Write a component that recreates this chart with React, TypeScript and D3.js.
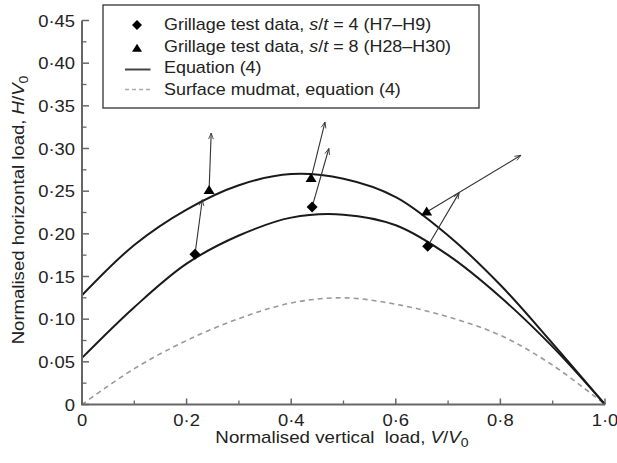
import React from "react";
import * as d3 from "d3";

const vGrid = [0, 0.1, 0.2, 0.3, 0.4, 0.5, 0.6, 0.7, 0.8, 0.9, 1.0];
const upperCurve = [0.128, 0.187, 0.2285, 0.257, 0.270, 0.2645, 0.243, 0.198, 0.140, 0.0714, 0];
const lowerCurve = [0.0546, 0.114, 0.165, 0.198, 0.219, 0.2225, 0.210, 0.175, 0.126, 0.0675, 0];
const mudmatCurve = [0, 0.042, 0.075, 0.1007, 0.119, 0.125, 0.1175, 0.1027, 0.081, 0.046, 0];

// Grillage test data s/t = 4 (diamonds) and s/t = 8 (triangles), with arrow tips
const diamondV = [0.216, 0.44, 0.661];
const diamondH = [0.176, 0.2315, 0.1855];
const diamondTipV = [0.230, 0.472, 0.721];
const diamondTipH = [0.240, 0.300, 0.248];
const triangleV = [0.243, 0.438, 0.659];
const triangleH = [0.251, 0.265, 0.2256];
const triangleTipV = [0.247, 0.4646, 0.839];
const triangleTipH = [0.318, 0.331, 0.292];

const xMajor = [0, 0.2, 0.4, 0.6, 0.8, 1.0];
const xMajorLabels = ["0", "0·2", "0·4", "0·6", "0·8", "1·0"];
const xMinor = [0.1, 0.3, 0.5, 0.7, 0.9];
const yMajor = [0, 0.05, 0.1, 0.15, 0.2, 0.25, 0.3, 0.35, 0.4, 0.45];
const yMajorLabels = ["0", "0·05", "0·10", "0·15", "0·20", "0·25", "0·30", "0·35", "0·40", "0·45"];
const yMinor = [0.025, 0.075, 0.125, 0.175, 0.225, 0.275, 0.325, 0.375, 0.425];

const FONT = "'Liberation Sans', Arial, Helvetica, sans-serif";
const SX = 1.15;

function T(props: {
  x: number;
  y: number;
  anchor?: "start" | "middle" | "end";
  rotate?: number;
  sx?: number;
  children: React.ReactNode;
}) {
  const { x, y, anchor = "start", rotate = 0, sx = SX, children } = props;
  return (
    <g transform={`translate(${x},${y}) rotate(${rotate}) scale(${sx},1)`}>
      <text x={0} y={0} textAnchor={anchor} fontSize={16} fill="#222" style={{ whiteSpace: "pre" }}>
        {children}
      </text>
    </g>
  );
}

export default function App() {
  const x = d3.scaleLinear().domain([0, 1]).range([82, 605]);
  const y = d3.scaleLinear().domain([0, 0.45]).range([404.5, 20.5]);

  const line = d3
    .line<number>()
    .x((_, i) => x(vGrid[i]))
    .y((d) => y(d))
    .curve(d3.curveCatmullRom.alpha(0.5));

  const axisColor = "#666";

  const diamond = (cx: number, cy: number, r = 5.5) =>
    `M${cx},${cy - r}L${cx + r},${cy}L${cx},${cy + r}L${cx - r},${cy}Z`;
  const triangle = (cx: number, cy: number, w = 11, h = 9) =>
    `M${cx},${cy - h * 0.6}L${cx + w / 2},${cy + h * 0.4}L${cx - w / 2},${cy + h * 0.4}Z`;

  const arrows = [
    ...diamondV.map((v, i) => ({ x1: x(v), y1: y(diamondH[i]), x2: x(diamondTipV[i]), y2: y(diamondTipH[i]) })),
    ...triangleV.map((v, i) => ({ x1: x(v), y1: y(triangleH[i]), x2: x(triangleTipV[i]), y2: y(triangleTipH[i]) })),
  ];

  return (
    <svg
      width={617}
      height={463}
      style={{ position: "absolute", left: 0, top: 0, background: "#fff" }}
      fontFamily={FONT}
    >
      <defs>
        <marker
          id="arrowhead"
          viewBox="-10 -5 12 10"
          refX={0}
          refY={0}
          markerWidth={9}
          markerHeight={8}
          markerUnits="userSpaceOnUse"
          orient="auto"
        >
          <path d="M-8,-3.2L0,0L-8,3.2" fill="none" stroke="#333" strokeWidth={1.1} />
        </marker>
      </defs>

      {/* curves */}
      <path d={line(mudmatCurve) || ""} fill="none" stroke="#999" strokeWidth={1.6} strokeDasharray="5,4" />
      <path d={line(upperCurve) || ""} fill="none" stroke="#1a1a1a" strokeWidth={2} />
      <path d={line(lowerCurve) || ""} fill="none" stroke="#1a1a1a" strokeWidth={2} />

      {/* arrows */}
      {arrows.map((a, i) => (
        <line
          key={"a" + i}
          x1={a.x1}
          y1={a.y1}
          x2={a.x2}
          y2={a.y2}
          stroke="#333"
          strokeWidth={1.1}
          markerEnd="url(#arrowhead)"
        />
      ))}

      {/* markers */}
      {diamondV.map((v, i) => (
        <path key={"d" + i} d={diamond(x(v), y(diamondH[i]))} fill="#000" />
      ))}
      {triangleV.map((v, i) => (
        <path key={"t" + i} d={triangle(x(v), y(triangleH[i]))} fill="#000" />
      ))}

      {/* axes */}
      <line x1={x(0)} y1={y(0)} x2={x(0)} y2={y(0.45)} stroke={axisColor} strokeWidth={2} />
      <line x1={x(0) - 1} y1={y(0)} x2={x(1)} y2={y(0)} stroke={axisColor} strokeWidth={2} />
      {yMajor.map((t) => (
        <line key={"ym" + t} x1={x(0)} x2={x(0) + 7} y1={y(t)} y2={y(t)} stroke={axisColor} strokeWidth={1.5} />
      ))}
      {yMinor.map((t) => (
        <line key={"yn" + t} x1={x(0)} x2={x(0) + 4.5} y1={y(t)} y2={y(t)} stroke={axisColor} strokeWidth={1.3} />
      ))}
      {xMajor.map((t) => (
        <line key={"xm" + t} x1={x(t)} x2={x(t)} y1={y(0)} y2={y(0) - 6} stroke={axisColor} strokeWidth={1.5} />
      ))}
      {xMinor.map((t) => (
        <line key={"xn" + t} x1={x(t)} x2={x(t)} y1={y(0)} y2={y(0) - 4} stroke={axisColor} strokeWidth={1.3} />
      ))}

      {/* tick labels */}
      {yMajor.map((t, i) => (
        <T key={"yl" + t} x={75} y={y(t) + 6} anchor="end">
          {yMajorLabels[i]}
        </T>
      ))}
      {xMajor.map((t, i) => (
        <T key={"xl" + t} x={x(t)} y={426} anchor="middle">
          {xMajorLabels[i]}
        </T>
      ))}

      {/* axis titles */}
      <T x={342} y={443} anchor="middle" sx={1.17}>
        {"Normalised vertical  load, "}
        <tspan fontStyle="italic">V</tspan>
        {"/"}
        <tspan fontStyle="italic">V</tspan>
        <tspan fontSize={12} dy={4}>0</tspan>
      </T>
      <T x={24} y={210} anchor="middle" rotate={-90} sx={1.16}>
        {"Normalised horizontal load, "}
        <tspan fontStyle="italic">H</tspan>
        {"/"}
        <tspan fontStyle="italic">V</tspan>
        <tspan fontSize={12} dy={4}>0</tspan>
      </T>

      {/* legend */}
      <rect x={103} y={5} width={376} height={103} fill="#fff" stroke="#333" strokeWidth={1.3} />
      <path d={diamond(137, 25, 5)} fill="#000" />
      <path d={triangle(137, 48.5, 10, 8)} fill="#000" />
      <line x1={125} x2={150.5} y1={69.5} y2={69.5} stroke="#444" strokeWidth={2} />
      <line x1={125} x2={150.5} y1={89.5} y2={89.5} stroke="#aaa" strokeWidth={1.5} strokeDasharray="4,3" />
      <T x={164} y={30} sx={1.12}>
        {"Grillage test data, "}
        <tspan fontStyle="italic">s</tspan>
        {"/"}
        <tspan fontStyle="italic">t</tspan>
        {" = 4 (H7–H9)"}
      </T>
      <T x={164} y={52} sx={1.12}>
        {"Grillage test data, "}
        <tspan fontStyle="italic">s</tspan>
        {"/"}
        <tspan fontStyle="italic">t</tspan>
        {" = 8 (H28–H30)"}
      </T>
      <T x={164} y={73} sx={1.12}>
        Equation (4)
      </T>
      <T x={164} y={95} sx={1.12}>
        Surface mudmat, equation (4)
      </T>
    </svg>
  );
}
